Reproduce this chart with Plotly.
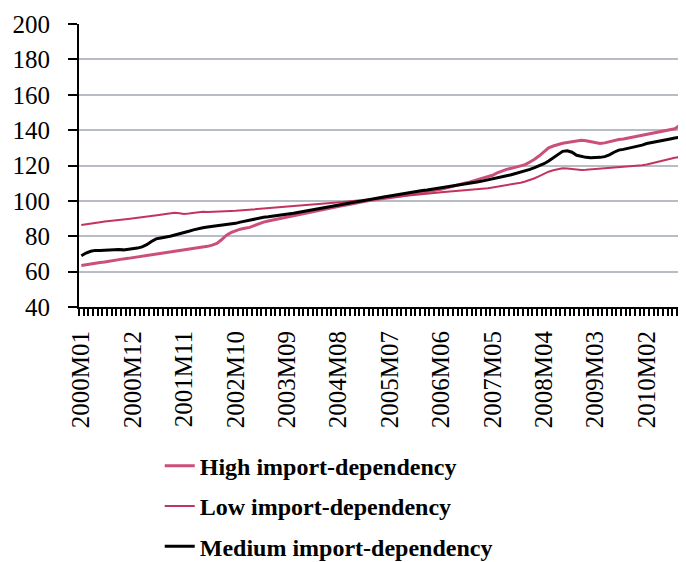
import plotly.graph_objects as go

# monthly index, 2000M01 .. 2010M10 (visible part)
months = [f"{2000 + k // 12}M{k % 12 + 1:02d}" for k in range(130)]
tick_labels = ["2000M01", "2000M12", "2001M11", "2002M10", "2003M09", "2004M08",
               "2005M07", "2006M06", "2007M05", "2008M04", "2009M03", "2010M02"]

high_dep = [
    63.5, 64.0, 64.3, 64.8, 65.2, 65.5, 66.0, 66.3, 66.8, 67.2,
    67.5, 67.9, 68.2, 68.6, 69.0, 69.3, 69.8, 70.3, 70.6, 71.0,
    71.2, 71.6, 72.0, 72.5, 73.0, 73.3, 73.8, 74.3, 75.0, 76.0,
    78.0, 80.5, 82.0, 83.2, 84.0, 84.5, 85.0, 86.0, 87.2, 88.0,
    88.6, 89.2, 89.7, 90.2, 90.8, 91.4, 92.0, 92.5, 93.0, 93.6,
    94.1, 94.7, 95.3, 95.8, 96.3, 96.8, 97.3, 97.8, 98.4, 99.0,
    99.5, 99.9, 100.3, 100.6, 101.0, 101.4, 101.8, 102.2, 102.6, 103.0,
    103.4, 103.8, 104.2, 104.6, 105.0, 105.4, 105.9, 106.5, 107.2, 108.0,
    108.6, 109.3, 110.0, 110.6, 111.3, 112.0, 112.7, 113.5, 114.5, 115.8,
    117.0, 117.8, 118.4, 119.0, 119.5, 120.5, 122.0, 123.5, 125.5, 128.0,
    130.0, 131.0, 132.0, 132.6, 133.0, 133.5, 134.0, 134.3, 134.0, 133.5,
    132.8, 132.4, 132.8, 133.5, 134.2, 134.7, 135.0, 135.5, 136.2, 136.5,
    137.0, 137.8, 138.2, 138.8, 139.3, 139.8, 140.0, 140.8, 142.5, 144.5,
]

low_dep = [
    86.3, 86.8, 87.2, 87.5, 87.9, 88.3, 88.5, 88.9, 89.3, 89.5,
    89.8, 90.1, 90.3, 90.6, 91.0, 91.4, 91.8, 92.2, 92.6, 92.9,
    93.3, 93.0, 92.6, 92.8, 93.3, 93.8, 93.9, 93.7, 93.9, 94.1,
    94.3, 94.1, 94.3, 94.4, 94.6, 94.9, 95.2, 95.4, 95.6, 95.8,
    96.0, 96.1, 96.3, 96.4, 96.6, 96.8, 97.0, 97.2, 97.4, 97.6,
    97.8, 98.0, 98.3, 98.6, 98.8, 99.0, 99.3, 99.6, 99.9, 100.2,
    100.5, 100.8, 101.1, 101.4, 101.6, 101.9, 102.1, 102.4, 102.6, 102.8,
    103.0, 103.2, 103.5, 103.7, 104.0, 104.3, 104.6, 104.9, 105.1, 105.3,
    105.5, 105.7, 105.9, 106.1, 106.3, 106.5, 106.8, 107.2, 107.6, 108.0,
    108.4, 108.8, 109.2, 109.7, 110.3, 111.0, 111.8, 112.8, 114.0, 115.3,
    116.5, 117.3, 118.0, 118.4, 118.3, 118.0, 117.8, 117.5, 117.6, 117.8,
    117.9, 118.0, 118.2, 118.5, 118.8, 119.0, 119.2, 119.4, 119.6, 119.9,
    120.2, 120.6, 121.2, 121.8, 122.5, 123.4, 124.0, 124.4, 124.7, 124.9,
]

medium_dep = [
    69.0, 70.5, 71.5, 72.0, 72.0, 72.2, 72.0, 72.3, 72.5, 72.3,
    72.5, 72.8, 73.3, 74.0, 75.2, 77.0, 78.5, 79.0, 79.3, 80.0,
    80.7, 81.3, 82.0, 82.8, 83.6, 84.3, 84.8, 85.2, 85.5, 85.8,
    86.1, 86.4, 86.8, 87.3, 88.0, 88.6, 89.2, 89.8, 90.3, 90.7,
    91.0, 91.3, 91.7, 92.0, 92.4, 92.8, 93.3, 93.8, 94.3, 94.8,
    95.2, 95.7, 96.2, 96.7, 97.2, 97.7, 98.1, 98.5, 99.0, 99.5,
    99.9, 100.3, 100.8, 101.3, 101.8, 102.3, 102.8, 103.3, 103.8, 104.2,
    104.7, 105.1, 105.5, 105.9, 106.2, 106.6, 106.9, 107.2, 107.6, 108.0,
    108.5, 108.9, 109.4, 109.8, 110.3, 110.8, 111.3, 111.8, 112.4, 113.0,
    113.6, 114.2, 114.8, 115.5, 116.2, 117.0, 117.8, 118.8, 119.8, 121.0,
    122.5, 124.5, 126.5, 128.0, 128.3, 127.5, 125.8, 125.0, 124.6, 124.4,
    124.4, 124.6, 125.0, 126.0, 127.5, 128.7, 129.1, 129.6, 130.2, 130.8,
    131.5, 132.4, 133.0, 133.6, 134.2, 134.6, 135.0, 135.5, 136.0, 136.5,
]

font = "Liberation Serif"
idx = list(range(len(months)))

fig = go.Figure()
fig.add_trace(go.Scatter(x=idx, y=high_dep, mode="lines", name="<b>High import-dependency</b>",
                         line=dict(color="#CB4F78", width=3), legendgroup="a"))
fig.add_trace(go.Scatter(x=idx, y=low_dep, mode="lines", name="<b>Low import-dependency</b>",
                         line=dict(color="#C2345E", width=2), legendgroup="b"))
fig.add_trace(go.Scatter(x=idx, y=medium_dep, mode="lines", name="<b>Medium import-dependency</b>",
                         line=dict(color="black", width=3), legendgroup="c"))

# page body has an 8px margin, so offset margins by that much
fig.update_layout(
    width=686, height=562,
    margin=dict(l=71, r=8, t=16, b=263, autoexpand=False),
    plot_bgcolor="white", paper_bgcolor="white",
    font=dict(family=font, size=23, color="black"),
    showlegend=True,
    legend=dict(x=0.133, y=-0.483, xanchor="left", yanchor="top",
                tracegroupgap=6, itemwidth=30,
                font=dict(size=24, family=font),
                bgcolor="rgba(0,0,0,0)"),
)

fig.update_xaxes(
    range=[-0.5, 129.4], automargin=False,
    tickvals=[months.index(t) for t in tick_labels], ticktext=tick_labels,
    tickangle=-90, ticks="", ticklabelstandoff=12,
    tickfont=dict(size=25),
    showgrid=False, zeroline=False,
    showline=True, linecolor="black", linewidth=2,
    minor=dict(tick0=-0.5, dtick=1, ticks="outside", ticklen=7, tickwidth=1.5,
               tickcolor="black", showgrid=False),
)
fig.update_yaxes(
    range=[40, 200], dtick=20, automargin=False,
    ticks="outside", ticklen=9, tickwidth=2, tickcolor="black",
    ticklabelstandoff=13,
    tickfont=dict(size=25),
    showgrid=True, gridcolor="#B8BCC4", gridwidth=2,
    zeroline=False, showline=True, linecolor="black", linewidth=2,
)

fig.write_html("out.html")
